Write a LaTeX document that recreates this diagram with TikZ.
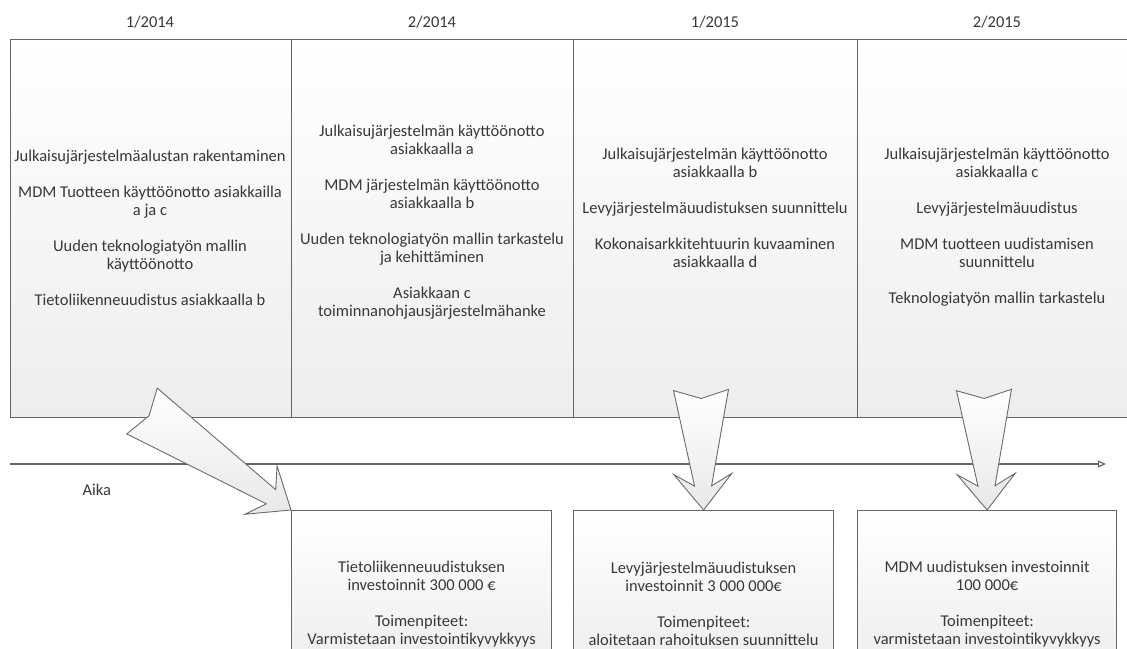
\documentclass[tikz,border=0pt]{standalone}
\usepackage{fontspec}
\setmainfont{Carlito}
\usetikzlibrary{calc,arrows.meta}

% block arrow with notched tail, from tail centre #1 to tip #2
\newcommand{\fatarrow}[2]{%
  \path[fatarrow] ($(#1)!27.5pt!90:(#2)$) -- ($(#1)!8.5pt!(#2)$)
    -- ($(#1)!27.5pt!-90:(#2)$) -- ($(#2)!24pt!(#1)!8.5pt!90:(#1)$)
    -- ($(#2)!36pt!(#1)!29pt!90:(#1)$) -- (#2)
    -- ($(#2)!36pt!(#1)!29pt!-90:(#1)$) -- ($(#2)!24pt!(#1)!8.5pt!-90:(#1)$)
    -- cycle;}

\begin{document}
\begin{tikzpicture}[x=1pt,y=-1pt,
    txt/.style={font=\fontsize{16.5}{18}\selectfont, text=black!78, align=center},
    fatarrow/.style={draw=black!58, line width=0.9pt, line join=miter,
      top color=white, bottom color=black!9}]

  \fill[white] (0,0) rectangle (1127,648);
  \clip (0,0) rectangle (1127,648);

  % half-year columns
  \begin{scope}[every node/.style={draw=black!60, line width=1.2pt, top color=white,
      bottom color=black!7, anchor=north west, minimum height=378pt, inner sep=0pt}]
    \node[minimum width=281pt] (h1) at (10,39)  {};
    \node[minimum width=282pt] (h2) at (291,39) {};
    \node[minimum width=284pt] (h3) at (573,39) {};
    \node[minimum width=290pt] (h4) at (857,39) {};
  \end{scope}

  \begin{scope}[every node/.style={txt}]
    \node at (150,22) {1/2014};
    \node at (432,22) {2/2014};
    \node at (715,22) {1/2015};
    \node at (997,22) {2/2015};

    \node at (150,228) {Julkaisujärjestelmäalustan rakentaminen\\[18pt]
      MDM Tuotteen käyttöönotto asiakkailla\\a ja c\\[18pt]
      Uuden teknologiatyön mallin\\käyttöönotto\\[18pt]
      Tietoliikenneuudistus asiakkaalla b};
    \node at (432,222) {Julkaisujärjestelmän käyttöönotto\\asiakkaalla a\\[18pt]
      MDM järjestelmän käyttöönotto\\asiakkaalla b\\[18pt]
      Uuden teknologiatyön mallin tarkastelu\\ja kehittäminen\\[18pt]
      Asiakkaan c\\toiminnanohjausjärjestelmähanke};
    \node at (715,208) {Julkaisujärjestelmän käyttöönotto\\asiakkaalla b\\[18pt]
      Levyjärjestelmäuudistuksen suunnittelu\\[18pt]
      Kokonaisarkkitehtuurin kuvaaminen\\asiakkaalla d};
    \node at (997,227) {Julkaisujärjestelmän käyttöönotto\\asiakkaalla c\\[18pt]
      Levyjärjestelmäuudistus\\[18pt]
      MDM tuotteen uudistamisen\\suunnittelu\\[18pt]
      Teknologiatyön mallin tarkastelu};

    \node[anchor=west] (aika) at (79,490) {Aika};
  \end{scope}

  % time axis
  \coordinate (t0) at (10,464);
  \coordinate (t1) at (1106,464);
  \draw[black!60, line width=1.2pt, -{Triangle[open, length=8pt, width=7pt]}] (t0) -- (t1);

  % investment boxes
  \begin{scope}[every node/.style={draw=black!60, line width=1.2pt, top color=white,
      bottom color=black!8, anchor=north west, minimum height=186pt, inner sep=0pt}]
    \node[minimum width=260pt] (b1) at (291,510) {};
    \node[minimum width=260pt] (b2) at (573,510) {};
    \node[minimum width=259pt] (b3) at (857,510) {};
  \end{scope}

  \begin{scope}[every node/.style={txt}]
    \node at (b1.center) {Tietoliikenneuudistuksen\\investoinnit 300 000 €\\[18pt]
      Toimenpiteet:\\Varmistetaan investointikyvykkyys};
    \node at (b2.center) {Levyjärjestelmäuudistuksen\\investoinnit 3 000 000€\\[18pt]
      Toimenpiteet:\\aloitetaan rahoituksen suunnittelu};
    \node at (b3.center) {MDM uudistuksen investoinnit\\100 000€\\[18pt]
      Toimenpiteet:\\varmistetaan investointikyvykkyys};
  \end{scope}

  % arrows from the half-years to the investments
  \coordinate (a1) at (142,411);
  \coordinate (a2) at (701,390);
  \coordinate (a3) at (984,390);
  \fatarrow{a1}{b1.north west}
  \fatarrow{a2}{b2.north}
  \fatarrow{a3}{b3.north}

\end{tikzpicture}
\end{document}
